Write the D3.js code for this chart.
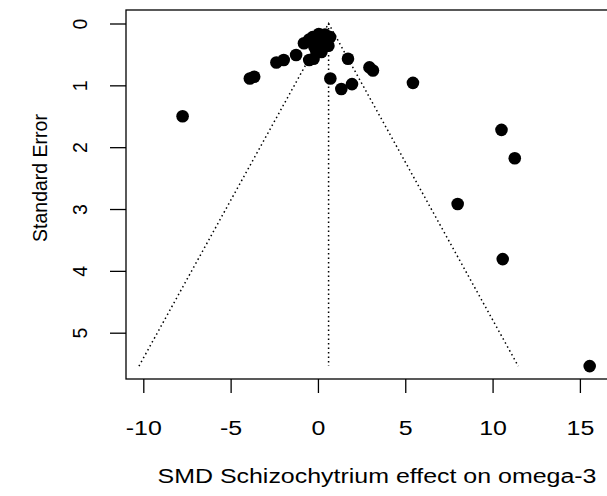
<!DOCTYPE html>
<html>
<head>
<meta charset="utf-8">
<script src="https://cdn.jsdelivr.net/npm/d3@7"></script>
<style>
  body { margin: 0; background: #fff; }
  svg { display: block; font-family: "Liberation Sans", Arial, sans-serif; }
</style>
</head>
<body>
<div id="chart"></div>
<script>
// study effects (SMD) and their standard errors
const effect = [-7.75, 10.51, 11.27, 8.0, 10.58, 15.56, 5.44, -3.9, -3.65, -2.38, -1.96,
  -1.25, -0.5, -0.25, -0.8, 1.72, 2.95, 3.15, 0.71, 1.34, 1.95,
  -0.3, 0.05, 0.4, 0.7, 0.6, 0.3, -0.2, 0.1, 0.5, -0.5, 0.2, -0.1];
const stdErr = [1.50, 1.72, 2.18, 2.92, 3.81, 5.54, 0.96, 0.89, 0.86, 0.63, 0.59,
  0.51, 0.59, 0.57, 0.32, 0.57, 0.71, 0.76, 0.89, 1.06, 0.98,
  0.22, 0.17, 0.18, 0.22, 0.36, 0.38, 0.38, 0.28, 0.30, 0.26, 0.46, 0.44];
const pooled = 0.61;
const xTicks = [-10, -5, 0, 5, 10, 15];
const yTicks = [0, 1, 2, 3, 4, 5];

const width = 607, height = 496;
const box = { left: 126, top: 10, bottom: 379 };
const fs = 19.5;     // font size
const sx = 1.28;     // horizontal text stretch seen in the picture

const svg = d3.select("#chart").append("svg")
  .attr("width", width)
  .attr("height", height);

const x = d3.scaleLinear().domain([-10, 15]).range([143.3, 579.9]);
const y = d3.scaleLinear().domain([0, 5]).range([23.5, 332.7]);

const seMax = d3.max(stdErr);

// funnel
const funnel = [[pooled - 1.96 * seMax, seMax], [pooled, 0], [pooled + 1.96 * seMax, seMax]];
svg.append("path")
  .attr("d", d3.line().x(d => x(d[0])).y(d => y(d[1]))(funnel))
  .attr("fill", "none")
  .attr("stroke", "#000")
  .attr("stroke-width", 1.5)
  .attr("stroke-dasharray", "1.5,3");
svg.append("line")
  .attr("x1", x(pooled)).attr("x2", x(pooled))
  .attr("y1", y(0)).attr("y2", y(seMax))
  .attr("stroke", "#000")
  .attr("stroke-width", 1.5)
  .attr("stroke-dasharray", "1.5,3");

// points
svg.selectAll("circle")
  .data(effect)
  .enter()
  .append("circle")
  .attr("cx", d => x(d))
  .attr("cy", (d, i) => y(stdErr[i]))
  .attr("r", 6.3)
  .attr("fill", "#000");

// plot box
svg.append("rect")
  .attr("x", box.left)
  .attr("y", box.top)
  .attr("width", 520)
  .attr("height", box.bottom - box.top)
  .attr("fill", "none")
  .attr("stroke", "#000")
  .attr("stroke-width", 1.3);

// x axis
const xAxis = svg.append("g")
  .attr("transform", `translate(0,${box.bottom})`)
  .call(d3.axisBottom(x).tickValues(xTicks).tickSize(14).tickSizeOuter(0));
xAxis.select(".domain").remove();
xAxis.selectAll("line").attr("stroke-width", 1.3);
xAxis.selectAll("text")
  .attr("y", 0).attr("dy", null)
  .attr("transform", `translate(0,56) scale(${sx},1)`)
  .attr("font-size", fs)
  .attr("font-family", "Liberation Sans, Arial, sans-serif")
  .text(d => d < 0 ? "-" + Math.abs(d) : d);

// y axis
const yAxis = svg.append("g")
  .attr("transform", `translate(${box.left},0)`)
  .call(d3.axisLeft(y).tickValues(yTicks).tickSize(16).tickSizeOuter(0).tickFormat(d3.format("d")));
yAxis.select(".domain").remove();
yAxis.selectAll("line").attr("stroke-width", 1.3);
yAxis.selectAll("text")
  .attr("x", null).attr("dy", null)
  .attr("transform", "translate(-39,0) rotate(-90)")
  .attr("text-anchor", "middle")
  .attr("font-size", fs)
  .attr("font-family", "Liberation Sans, Arial, sans-serif");

// titles
svg.append("text")
  .attr("transform", `translate(377,483) scale(${sx},1)`)
  .attr("text-anchor", "middle")
  .attr("font-size", fs)
  .text("SMD Schizochytrium effect on omega-3");

svg.append("text")
  .attr("transform", "translate(47,178) rotate(-90)")
  .attr("text-anchor", "middle")
  .attr("font-size", fs)
  .text("Standard Error");
</script>
</body>
</html>
